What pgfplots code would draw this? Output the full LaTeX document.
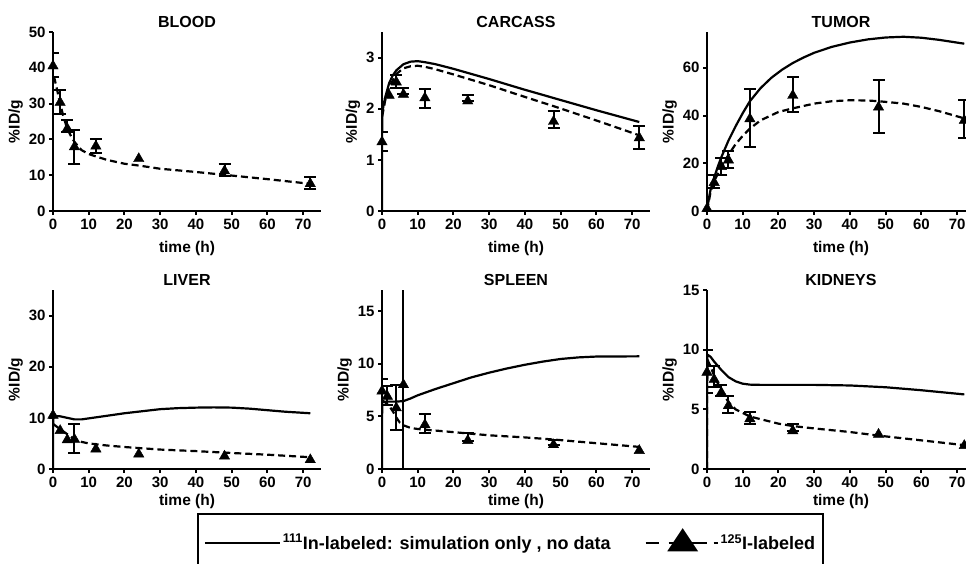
\documentclass[border=0pt]{standalone}
\usepackage{fontspec}
\setmainfont{Liberation Sans}
\usepackage{pgfplots}
\pgfplotsset{compat=1.18}

\pgfplotsset{
  panel/.style={
    scale only axis, width=268pt, height=179pt,
    anchor=south west,
    xmin=0, xmax=75, ymin=0,
    enlargelimits=false,
    xtick={0,10,...,70},
    axis x line*=bottom, axis y line*=left,
    axis line style={line width=2.4pt, -},
    tick style={line width=2pt, black},
    tick align=outside, major tick length=4pt,
    /pgf/number format/assume math mode=true,
    ticklabel style={font=\bfseries\fontsize{15}{17}\selectfont},
    label style={font=\bfseries\fontsize{15.5}{18}\selectfont},
    title style={font=\bfseries\fontsize{16}{18}\selectfont, yshift=-5pt},
    ylabel style={yshift=-1pt},
    xlabel={time (h)}, ylabel={\%ID/g},
  },
  toprow/.style={panel, xlabel style={yshift=-5pt}},
  sim/.style={black, line width=2.2pt, no marks, solid},
  fit/.style={black, line width=2.2pt, no marks, dash pattern=on 7pt off 4pt},
  pts/.style={black, only marks, mark=triangle*, mark size=6pt, mark options={solid, fill=black}},
  ebar/.style={
    error bars/y dir=both, error bars/y explicit,
    error bars/error bar style={line width=2pt, solid}},
  meas/.style={pts, ebar,
    error bars/error mark options={rotate=90, mark size=6pt, line width=2pt}},
}

\begin{document}
\begin{tikzpicture}

% ---------- BLOOD ----------
\begin{axis}[toprow, at={(53pt,352pt)}, ymax=50, ytick={0,10,...,50}, title={BLOOD}]
  \addplot[fit] coordinates {(0.3,37.5) (1,34.5) (2,30) (3,26) (4,23) (5,21) (6,19.3) (8,17) (10,15.9) (15,14.3) (20,13.2) (24,12.7) (30,11.8) (40,10.9) (50,9.9) (60,8.9) (72,7.6)};
  \addplot[meas] table[x=t, y=v, y error plus=ep, y error minus=em] {
    t v ep em
    0 40.5 3.5 3.2
    2 30.3 3.5 3.3
    4 23.0 2.3 1.0
    6 17.9 4.7 4.7
    12 18.1 1.9 1.9
    48 11.2 1.8 1.5
    72 7.6 1.8 1.4
  };
  \addplot[pts] coordinates {(24,14.6)};
\end{axis}

% ---------- CARCASS ----------
\begin{axis}[toprow, at={(382pt,352pt)}, ymax=3.5, ytick={0,1,2,3}, title={CARCASS}]
  \addplot[sim] coordinates {(0,0) (0.05,1.9) (0.5,2.1) (1,2.25) (2,2.5) (3,2.65) (4,2.75) (6,2.87) (8,2.92) (10,2.93) (12,2.91) (15,2.87) (20,2.78) (30,2.58) (40,2.37) (50,2.17) (60,1.97) (72,1.74)};
  \addplot[fit] coordinates {(0.05,1.85) (1,2.2) (2,2.42) (4,2.68) (6,2.79) (8,2.83) (10,2.84) (12,2.82) (15,2.77) (20,2.67) (30,2.46) (40,2.23) (48,2.05) (60,1.77) (72,1.48)};
  \addplot[meas] table[x=t, y=v, y error plus=ep, y error minus=em] {
    t v ep em
    0 1.35 0.20 0.18
    4 2.52 0.13 0.12
    6 2.28 0.13 0.0
    12 2.21 0.18 0.19
    24 2.15 0.11 0.0
    48 1.75 0.21 0.13
    72 1.43 0.23 0.21
  };
  \addplot[pts] coordinates {(2,2.26)};
\end{axis}

% ---------- TUMOR ----------
\begin{axis}[toprow, at={(707pt,352pt)}, ymax=75, ytick={0,20,40,60}, title={TUMOR}]
  \addplot[sim] coordinates {(0,0) (0.5,5) (1,9) (2,14) (3,18.5) (4,22.5) (6,29.5) (8,35.5) (10,41) (12,46) (15,51.5) (18,55.8) (21,59.2) (24,62) (27,64.3) (30,66.3) (35,68.8) (40,70.6) (45,71.9) (50,72.7) (55,73.0) (60,72.6) (65,71.7) (72,70.1)};
  \addplot[fit] coordinates {(0,0) (1,8) (2,12.5) (4,18.5) (6,23.5) (8,28) (10,31.5) (12,34.5) (15,38) (20,41.5) (24,43) (30,45) (35,46) (40,46.4) (45,46.3) (48,46) (55,45) (60,43.6) (65,41.8) (72,38.8)};
  \addplot[meas] table[x=t, y=v, y error plus=ep, y error minus=em] {
    t v ep em
    2 11.9 3.2 2.1
    4 18.6 3.5 3.5
    6 21.3 3.9 3.4
    12 38.6 12.6 11.7
    24 48.4 7.7 7.0
    48 43.5 11.2 11.0
    72 37.9 8.6 7.3
  };
  \addplot[pts] coordinates {(0,1)};
\end{axis}

% ---------- LIVER ----------
\begin{axis}[panel, at={(53pt,94pt)}, ymax=35, ytick={0,10,20,30}, title={LIVER}]
  \addplot[sim] coordinates {(0,0) (0.05,10) (1,10.3) (2,10.3) (4,10) (6,9.7) (8,9.7) (10,9.9) (15,10.4) (20,10.9) (25,11.3) (30,11.7) (35,11.9) (40,12.0) (45,12.05) (50,12.0) (55,11.8) (60,11.5) (65,11.2) (72,10.9)};
  \addplot[fit] coordinates {(0.05,8.8) (1,8.3) (2,7.8) (4,6.8) (6,5.8) (8,5.3) (10,5.0) (15,4.6) (20,4.3) (30,3.8) (40,3.5) (48,3.2) (60,2.8) (72,2.3)};
  \addplot[meas] table[x=t, y=v, y error plus=ep, y error minus=em] {
    t v ep em
    6 5.8 3.0 2.7
  };
  \addplot[pts] coordinates {(0,10.5) (2,7.5) (4,5.7) (12,3.9) (24,2.9) (48,2.5) (72,1.8)};
\end{axis}

% ---------- SPLEEN ----------
\begin{axis}[panel, at={(382pt,94pt)}, ymax=17, ytick={0,5,10,15}, title={SPLEEN},
    legend columns=2,
    legend cell align=left,
    legend style={at={(-0.69,-0.246)}, anchor=north west, draw=black, line width=1.5pt,
      inner xsep=6pt, inner ysep=15pt,
      font=\bfseries\fontsize{18}{21}\selectfont,
      /tikz/every even column/.append style={column sep=32pt}},
  ]
  \addplot[sim, forget plot] coordinates {(0,0) (0.05,6.4) (2,6.4) (4,6.4) (6,6.45) (8,6.7) (10,7.0) (15,7.6) (20,8.15) (25,8.7) (30,9.15) (35,9.55) (40,9.9) (45,10.2) (50,10.45) (55,10.6) (60,10.68) (72,10.7)};
  \addplot[fit, forget plot] coordinates {(0.05,6.5) (1,6.3) (2,6.0) (3,5.5) (4,4.9) (5,4.4) (6,4.15) (8,3.9) (10,3.8) (15,3.65) (20,3.5) (30,3.2) (40,3.0) (48,2.8) (60,2.45) (72,2.1)};
  \addplot[forget plot, meas] table[x=t, y=v, y error plus=ep, y error minus=em] {
    t v ep em
    0 7.4 1.15 1.05
    1.5 6.9 0.95 0.8
    4 5.8 2.2 2.1
    12 4.2 1.0 0.8
    24 2.7 0.7 0.0
    48 2.3 0.5 0.0
  };
  % the 6 h point: its error bar runs past both ends of the axis
  \addplot[forget plot, pts, ebar, error bars/error mark=none]
    table[x=t, y=v, y error plus=ep, y error minus=em] {
    t v ep em
    6 8.0 9.0 8.0
  };
  \addplot[forget plot, pts] coordinates {(72,1.75)};

  \addlegendimage{legend image code/.code={\draw[black, line width=2pt] (0pt,0pt) -- (75pt,0pt);}}
  \addlegendentry{\textsuperscript{111}In-labeled: simulation only , no data}
  \addlegendimage{legend image code/.code={
      \draw[black, line width=2pt] (0pt,0pt) -- (13pt,0pt) (23pt,0pt) -- (61pt,0pt) (68pt,0pt) -- (72pt,0pt);
      \fill[black] (23pt,-8pt) -- (51pt,-8pt) -- (37pt,13pt) -- cycle;}}
  \addlegendentry{\textsuperscript{125}I-labeled}
\end{axis}

% ---------- KIDNEYS ----------
\begin{axis}[panel, at={(707pt,94pt)}, ymax=15, ytick={0,5,10,15}, title={KIDNEYS}]
  \addplot[sim] coordinates {(0,0) (0.05,9.6) (1,9.4) (2,9.0) (4,8.3) (6,7.7) (8,7.35) (10,7.15) (12,7.07) (15,7.05) (20,7.05) (30,7.05) (40,7.0) (50,6.85) (60,6.6) (72,6.25)};
  \addplot[fit] coordinates {(0,0) (0.05,9.2) (1,8.6) (2,7.8) (4,6.6) (6,5.6) (8,5.0) (10,4.7) (12,4.4) (16,4.1) (20,3.8) (24,3.6) (30,3.4) (40,3.1) (48,2.8) (60,2.4) (72,2.0)};
  \addplot[meas] table[x=t, y=v, y error plus=ep, y error minus=em] {
    t v ep em
    0 8.1 1.9 1.7
    2 7.5 1.1 0.6
    4 6.4 0.6 0.3
    6 5.3 0.8 0.6
    12 4.2 0.6 0.4
    24 3.2 0.6 0.0
  };
  \addplot[pts] coordinates {(48,2.9) (72,1.96)};
\end{axis}

\pgfresetboundingbox
\path[use as bounding box] (0pt,0pt) rectangle (966pt,563pt);
\end{tikzpicture}
\end{document}
